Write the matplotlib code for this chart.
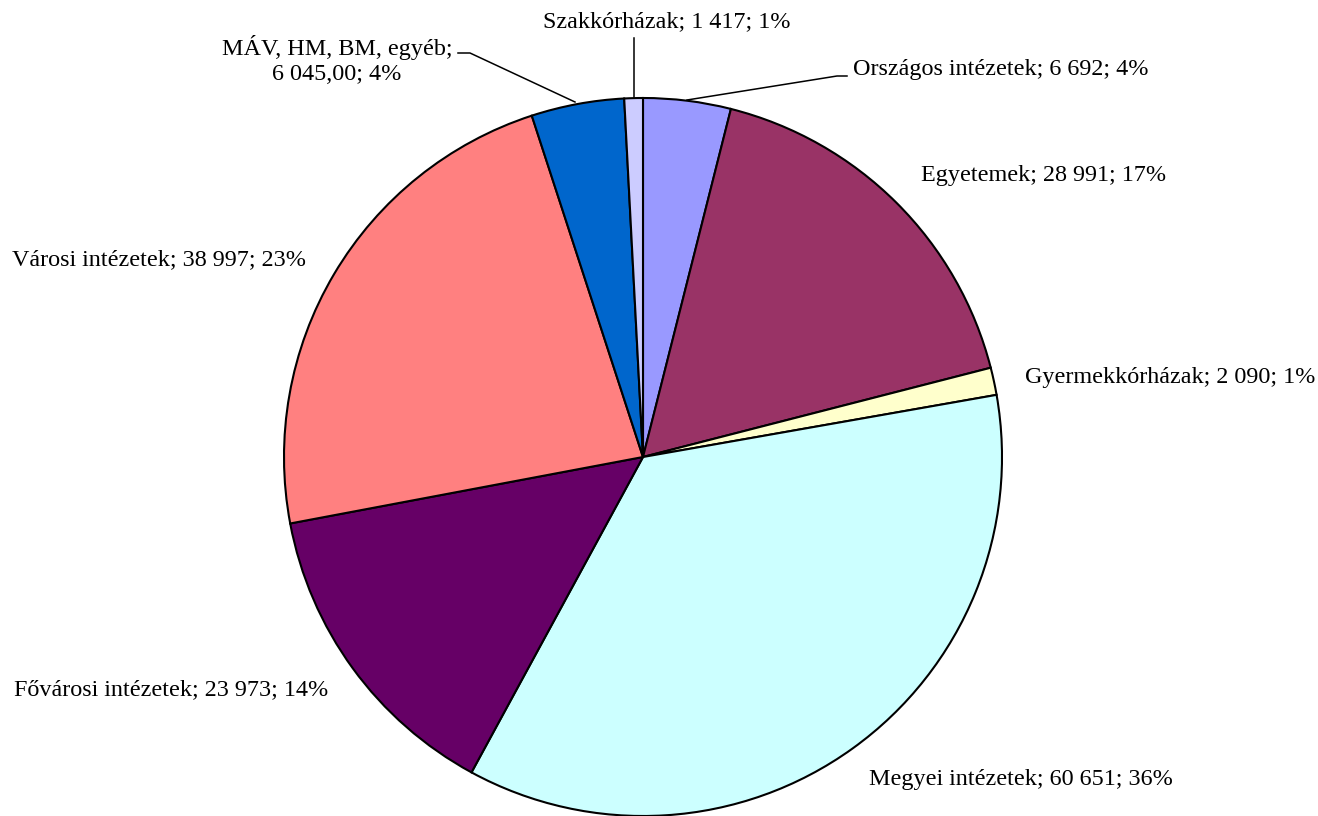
import matplotlib
matplotlib.use("Agg")
import matplotlib.pyplot as plt

categories = ["Országos intézetek", "Egyetemek", "Gyermekkórházak", "Megyei intézetek",
              "Fővárosi intézetek", "Városi intézetek", "MÁV, HM, BM, egyéb", "Szakkórházak"]
# slice sizes as drawn (MÁV slice is visibly larger than its typed label)
values = [6692, 28991, 2090, 60651, 23973, 38997, 7100, 1417]
# label value texts as printed
value_texts = ["6 692", "28 991", "2 090", "60 651", "23 973", "38 997", "6 045,00", "1 417"]
percent_texts = ["4%", "17%", "1%", "36%", "14%", "23%", "4%", "1%"]
colors = ["#9999FF", "#993366", "#FFFFCC", "#CCFFFF", "#660066", "#FF8080", "#0066CC", "#CCCCFF"]

W, H = 1318, 816
fig = plt.figure(figsize=(W / 100, H / 100), dpi=100)
ax = fig.add_axes([0, 0, 1, 1])

cx, cy, r = 643, H - 457, 359
ax.pie(values, colors=colors, startangle=90, counterclock=False,
       center=(cx, cy), radius=r, frame=True,
       wedgeprops=dict(edgecolor="black", linewidth=1.5))
ax.set_xlim(0, W)
ax.set_ylim(0, H)
ax.set_aspect("equal")
ax.axis("off")

labels = [f"{c}; {vt}; {p}" for c, vt, p in zip(categories, value_texts, percent_texts)]
labels[6] = f"{categories[6]};\n{value_texts[6]}; {percent_texts[6]}"

font = dict(family="Liberation Serif", fontsize=17.4, color="black")
# label layout: (x, y_px, ha)
layout = [
    (853, 70, "left"),
    (921, 176, "left"),
    (1025, 377, "left"),
    (869, 779, "left"),
    (14, 690, "left"),
    (12, 260, "left"),
    (337, 60, "center"),
    (543, 22, "left"),
]
for lab, (x, ypx, ha) in zip(labels, layout):
    ax.text(x, H - ypx, lab, ha=ha, va="center", linespacing=1.2, **font)

# leader lines
lk = dict(color="black", linewidth=1.1)
ax.plot([847, 837, 687], [H - 76, H - 76, H - 100], **lk)
ax.plot([458, 470, 575], [H - 53, H - 53, H - 102], **lk)
ax.plot([634, 634], [H - 38, H - 97], **lk)

fig.savefig("out.png", dpi=100, facecolor="white")
